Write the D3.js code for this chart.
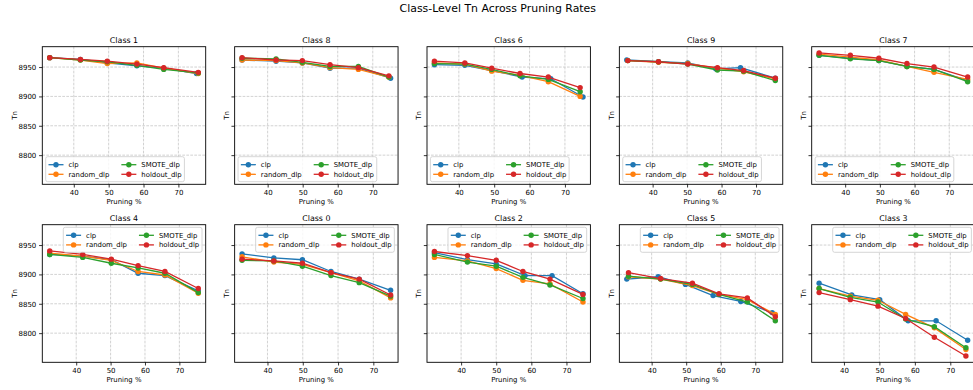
<!DOCTYPE html>
<html>
<head>
<meta charset="utf-8">
<script src="https://cdn.jsdelivr.net/npm/d3@7"></script>
<style>
  body { margin: 0; background: #ffffff; }
  text { font-family: "DejaVu Sans", sans-serif; fill: #000; }
</style>
</head>
<body>
<svg id="chart" width="973" height="390"></svg>
<script>
// ---- data ----
const classNames = ["Class 1", "Class 8", "Class 6", "Class 9", "Class 7",
                    "Class 4", "Class 0", "Class 2", "Class 5", "Class 3"];
const seriesNames = ["clp", "random_dlp", "SMOTE_dlp", "holdout_dlp"];
const seriesColors = ["#1f77b4", "#ff7f0e", "#2ca02c", "#d62728"];

// pruning rate (%) per class: clp and the three dlp variants
const pruneClp = [
  [33.1, 41.9, 49.6, 58.1, 65.8, 75.2],
  [32.7, 42.4, 49.9, 57.8, 65.9, 75.1],
  [33.1, 41.7, 49.3, 57.9, 66.0, 75.1],
  [32.5, 41.7, 50.2, 58.3, 65.5, 75.6],
  [32.5, 41.5, 49.7, 57.8, 65.6, 75.2],
  [32.3, 41.9, 50.2, 58.0, 65.8, 75.5],
  [32.8, 41.8, 49.9, 58.0, 66.0, 74.9],
  [32.4, 41.8, 50.0, 58.2, 65.9, 74.7],
  [32.8, 41.9, 49.8, 57.8, 65.8, 74.9],
  [33.0, 42.2, 50.1, 58.1, 66.0, 74.9]
];
const pruneDlp = [
  [33.1, 41.9, 49.6, 58.1, 65.8, 75.7],
  [32.7, 42.4, 49.9, 57.8, 65.9, 74.6],
  [33.1, 41.7, 49.3, 57.3, 65.3, 74.3],
  [32.8, 41.7, 50.2, 58.8, 66.4, 75.6],
  [32.5, 41.5, 49.7, 57.8, 65.6, 75.3],
  [32.3, 41.9, 50.2, 58.0, 65.8, 75.5],
  [32.8, 41.8, 49.9, 58.0, 66.0, 74.9],
  [32.4, 41.8, 50.0, 57.6, 65.3, 74.7],
  [33.3, 42.6, 51.8, 59.5, 67.7, 75.8],
  [33.0, 41.8, 49.6, 57.4, 65.5, 74.4]
];

// true negatives per class
const tnClp = [
  [8966, 8963, 8957, 8952, 8948, 8939],
  [8962, 8960, 8957, 8948, 8948, 8931],
  [8954, 8953, 8944, 8933, 8930, 8899],
  [8962, 8959, 8957, 8947, 8949, 8931],
  [8970, 8965, 8961, 8951, 8946, 8927],
  [8934, 8931, 8925, 8902, 8898, 8872],
  [8935, 8928, 8925, 8905, 8892, 8873],
  [8937, 8925, 8918, 8898, 8898, 8867],
  [8892, 8896, 8883, 8864, 8854, 8835],
  [8885, 8865, 8857, 8821, 8821, 8788]
];
const tnRandom = [
  [8966, 8962, 8956, 8957, 8948, 8939],
  [8962, 8961, 8957, 8949, 8946, 8933],
  [8957, 8955, 8943, 8936, 8925, 8900],
  [8961, 8958, 8956, 8948, 8942, 8930],
  [8972, 8967, 8962, 8951, 8941, 8929],
  [8936, 8931, 8924, 8905, 8899, 8868],
  [8930, 8921, 8917, 8903, 8889, 8860],
  [8929, 8923, 8910, 8890, 8884, 8853],
  [8896, 8892, 8881, 8866, 8857, 8832],
  [8876, 8863, 8856, 8832, 8809, 8772]
];
const tnSmote = [
  [8966, 8962, 8959, 8953, 8946, 8940],
  [8965, 8964, 8958, 8951, 8951, 8933],
  [8956, 8955, 8946, 8935, 8929, 8908],
  [8961, 8959, 8955, 8945, 8943, 8927],
  [8970, 8964, 8961, 8951, 8946, 8925],
  [8934, 8929, 8919, 8911, 8902, 8869],
  [8924, 8923, 8914, 8898, 8886, 8863],
  [8934, 8921, 8914, 8895, 8882, 8859],
  [8897, 8892, 8883, 8866, 8853, 8821],
  [8876, 8861, 8853, 8824, 8811, 8775]
];
const tnHoldout = [
  [8966, 8963, 8960, 8955, 8949, 8941],
  [8966, 8962, 8961, 8954, 8949, 8935],
  [8960, 8957, 8948, 8939, 8933, 8915],
  [8961, 8959, 8955, 8949, 8944, 8931],
  [8974, 8970, 8965, 8956, 8950, 8933],
  [8940, 8934, 8926, 8915, 8905, 8876],
  [8926, 8923, 8919, 8903, 8892, 8865],
  [8939, 8932, 8924, 8905, 8892, 8866],
  [8903, 8893, 8885, 8867, 8860, 8828],
  [8869, 8857, 8846, 8825, 8793, 8761]
];

const xTickValues = [40, 50, 60, 70];
const yTickValues = [8800, 8850, 8900, 8950];

// ---- layout ----
const svg = d3.select("#chart");
const panelW = 163.4, panelH = 137.6;
const colStep = 192.35, firstLeft = 42.3;
const rowTop = [46.7, 224.7];
const tickFont = 7, labelFont = 6.9, titleFont = 7.9, legendFont = 6.9;

svg.append("text")
  .attr("x", 497.8).attr("y", 12)
  .attr("text-anchor", "middle")
  .style("font-size", "10.9px")
  .text("Class-Level Tn Across Pruning Rates");

// shared y range across all panels (5% margin)
const tnAll = [tnClp, tnRandom, tnSmote, tnHoldout].flat(2);
const tnMin = d3.min(tnAll), tnMax = d3.max(tnAll);
const tnPad = (tnMax - tnMin) * 0.05;

classNames.forEach((name, i) => {
  const row = Math.floor(i / 5), col = i % 5;
  const left = firstLeft + col * colStep, top = rowTop[row];

  const xsAll = pruneClp[i].concat(pruneDlp[i]);
  const xMin = d3.min(xsAll), xMax = d3.max(xsAll);
  const xPad = (xMax - xMin) * 0.05;
  const x = d3.scaleLinear().domain([xMin - xPad, xMax + xPad]).range([0, panelW]);
  const y = d3.scaleLinear().domain([tnMin - tnPad, tnMax + tnPad]).range([panelH, 0]);

  const g = svg.append("g").attr("transform", `translate(${left},${top})`);

  g.append("rect").attr("width", panelW).attr("height", panelH).attr("fill", "#fff");

  // dashed grid
  const grid = g.append("g")
    .attr("stroke", "#b0b0b0").attr("stroke-width", 0.75)
    .attr("stroke-dasharray", "2.7,1.3").attr("opacity", 0.75);
  grid.selectAll("line.gx").data(xTickValues).join("line")
    .attr("x1", d => x(d)).attr("x2", d => x(d)).attr("y1", 0).attr("y2", panelH);
  grid.selectAll("line.gy").data(yTickValues).join("line")
    .attr("y1", d => y(d)).attr("y2", d => y(d)).attr("x1", 0).attr("x2", panelW);

  // series
  const series = [
    { xs: pruneClp[i], ys: tnClp[i] },
    { xs: pruneDlp[i], ys: tnRandom[i] },
    { xs: pruneDlp[i], ys: tnSmote[i] },
    { xs: pruneDlp[i], ys: tnHoldout[i] }
  ];
  const line = d3.line().x(d => x(d[0])).y(d => y(d[1]));
  series.forEach((s, k) => {
    const pts = s.xs.map((v, j) => [v, s.ys[j]]);
    g.append("path").datum(pts)
      .attr("d", line).attr("fill", "none")
      .attr("stroke", seriesColors[k]).attr("stroke-width", 1.3);
    g.selectAll(null).data(pts).join("circle")
      .attr("cx", d => x(d[0])).attr("cy", d => y(d[1])).attr("r", 2.7)
      .attr("fill", seriesColors[k]);
  });

  // axes
  const xAxis = g.append("g").attr("transform", `translate(0,${panelH})`)
    .call(d3.axisBottom(x).tickValues(xTickValues).tickSize(3.2).tickPadding(2.4).tickFormat(d3.format("d")));
  const yAxis = g.append("g")
    .call(d3.axisLeft(y).tickValues(yTickValues).tickSize(3.2).tickPadding(2.8)
      .tickFormat(col === 0 ? d3.format("d") : () => ""));
  [xAxis, yAxis].forEach(a => {
    a.select(".domain").remove();
    a.selectAll("line").attr("stroke", "#000").attr("stroke-width", 0.8);
    a.selectAll("text").style("font-size", tickFont + "px")
      .style("font-family", "'DejaVu Sans', sans-serif").attr("fill", "#000");
  });

  // spines
  g.append("rect").attr("width", panelW).attr("height", panelH)
    .attr("fill", "none").attr("stroke", "#000").attr("stroke-width", 0.9);

  // labels and title
  g.append("text").attr("x", panelW / 2).attr("y", -3.8)
    .attr("text-anchor", "middle").style("font-size", titleFont + "px").text(name);
  g.append("text").attr("x", panelW / 2).attr("y", panelH + 19.8)
    .attr("text-anchor", "middle").style("font-size", labelFont + "px").text("Pruning %");
  const ylx = col === 0 ? -28.3 : -8.3;
  g.append("text")
    .attr("transform", `translate(${ylx + 2.5},${panelH / 2}) rotate(-90)`)
    .attr("text-anchor", "middle").style("font-size", "7px").text("Tn");

  // legend (two columns: clp / random_dlp, SMOTE_dlp / holdout_dlp)
  const lg = g.append("g");
  const pad = 2.8, handleLen = 15, handleGap = 5, colGap = 12, rowGap = 9.6;
  const cols = [[0, 1], [2, 3]];
  const measure = lg.append("text").style("font-size", legendFont + "px");
  const colTextW = cols.map(cidx => d3.max(cidx, k => {
    measure.text(seriesNames[k]);
    return measure.node().getComputedTextLength();
  }));
  measure.remove();
  const legW = pad * 2 + 2 * (handleLen + handleGap) + colTextW[0] + colTextW[1] + colGap;
  const legH = 25;
  const lx = row === 0 ? 3.4 : panelW - 3.7 - legW;
  const ly = row === 0 ? panelH - 2.6 - legH : 2.6;
  lg.attr("transform", `translate(${lx},${ly})`);
  lg.append("rect").attr("width", legW).attr("height", legH).attr("rx", 2)
    .attr("fill", "#fff").attr("fill-opacity", 0.8)
    .attr("stroke", "#cccccc").attr("stroke-width", 0.8);
  cols.forEach((cidx, ci) => {
    const cx0 = pad + (ci === 0 ? 0 : handleLen + handleGap + colTextW[0] + colGap);
    cidx.forEach((k, ri) => {
      const cy = 8 + ri * rowGap;
      lg.append("line").attr("x1", cx0).attr("x2", cx0 + handleLen)
        .attr("y1", cy).attr("y2", cy)
        .attr("stroke", seriesColors[k]).attr("stroke-width", 1.3);
      lg.append("circle").attr("cx", cx0 + handleLen / 2).attr("cy", cy).attr("r", 2.7)
        .attr("fill", seriesColors[k]);
      lg.append("text").attr("x", cx0 + handleLen + handleGap).attr("y", cy)
        .attr("dy", "0.35em").style("font-size", legendFont + "px").text(seriesNames[k]);
    });
  });
});
</script>
</body>
</html>
